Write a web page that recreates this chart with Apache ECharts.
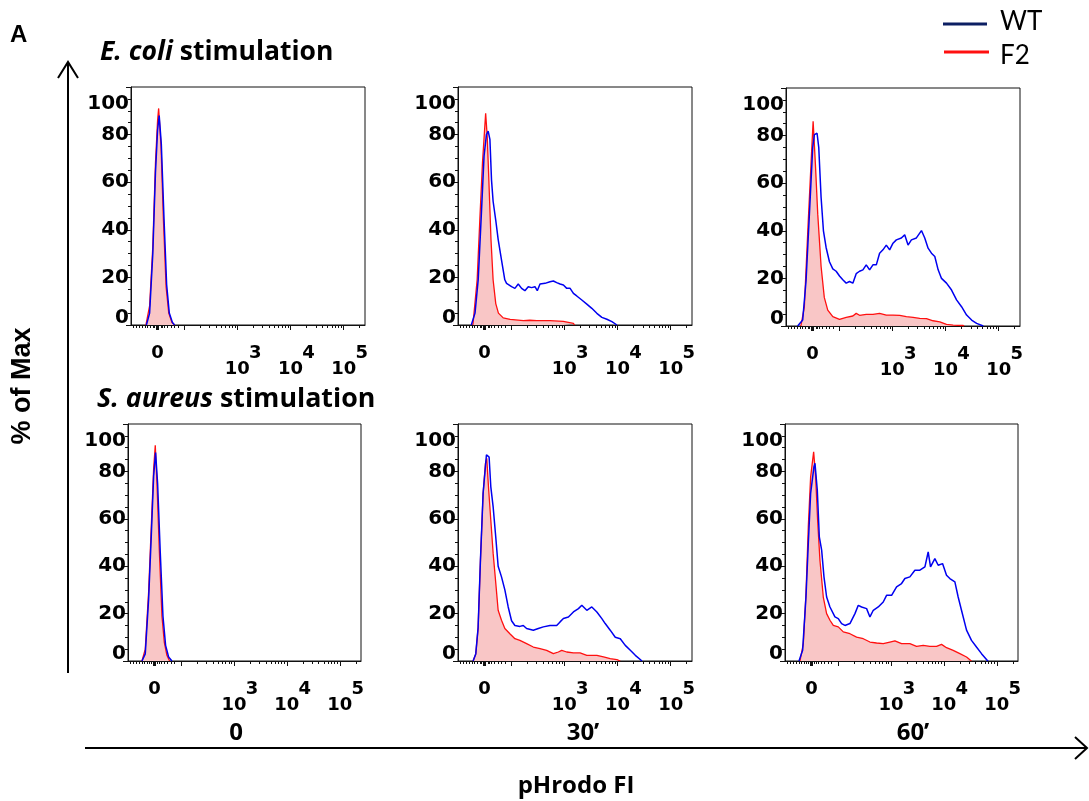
<!DOCTYPE html>
<html>
<head>
<meta charset="utf-8">
<title>pHrodo FI histograms</title>
<script src="https://cdn.jsdelivr.net/npm/echarts@6/dist/echarts.min.js"></script>
<style>
    html, body { margin: 0; padding: 0; background: #fff; }
    #chart { width: 1089px; height: 801px; }
</style>
</head>
<body>
<div id="chart"></div>
<script>
    // x is in display units of the biexponential scale: 0 sits at 1.5, 10^n sits at n
    let xRange = [1.0, 5.4];
    let xLabelTicks = [1.5, 3, 4, 5];
    let xExpTicks = [3, 4, 5];
    let xMajorTicks = [1.48, 1.5, 1.52, 2, 3, 4, 5];
    let xMinorTicks = [1.05, 1.09, 1.16, 1.22, 1.27, 1.31, 1.36, 1.41, 1.44,
        1.56, 1.59, 1.63, 1.69, 1.75, 1.82, 1.88,
        2.301, 2.477, 2.602, 2.699, 2.778, 2.845, 2.903, 2.954,
        3.301, 3.477, 3.602, 3.699, 3.778, 3.845, 3.903, 3.954,
        4.301, 4.477, 4.602, 4.699, 4.778, 4.845, 4.903, 4.954,
        5.301];
    let yTicks = [0, 20, 40, 60, 80, 100];

    // E. coli stimulation
    let ecoli0Wt = [[1.29, 0], [1.35, 5], [1.41, 30], [1.46, 64], [1.50, 82], [1.53, 88], [1.57, 76], [1.62, 45], [1.67, 17], [1.72, 5], [1.78, 1], [1.82, 0]];
    let ecoli0F2 = [[1.28, 0], [1.35, 8], [1.41, 33], [1.46, 68], [1.50, 86], [1.52, 91], [1.565, 75], [1.61, 44], [1.66, 16], [1.71, 5], [1.77, 1], [1.82, 0]];

    let ecoli30Wt = [[1.25, 0], [1.32, 5], [1.38, 19], [1.44, 47], [1.49, 71], [1.535, 80], [1.567, 81.5], [1.60, 78], [1.63, 61], [1.66, 52], [1.71, 44], [1.755, 36],
        [1.82, 27], [1.88, 19], [1.913, 17.5], [2.007, 16.1], [2.07, 15.4], [2.133, 17.2], [2.196, 15.4], [2.258, 14.4], [2.321, 16.1], [2.384, 15.7], [2.447, 16.1],
        [2.491, 14.4], [2.542, 17.2], [2.636, 17.5], [2.73, 18.2], [2.793, 18.5], [2.856, 17.8], [2.919, 17.2], [2.982, 16.8], [3.045, 15.4], [3.108, 15.4], [3.17, 13.3],
        [3.233, 12.2], [3.328, 10.5], [3.422, 8.8], [3.516, 7.0], [3.611, 4.9], [3.705, 3.2], [3.799, 2.4], [3.894, 1.4], [3.988, 0]];
    let ecoli30F2 = [[1.28, 0], [1.36, 19], [1.41, 44], [1.46, 68], [1.52, 89], [1.55, 79], [1.58, 61], [1.62, 36], [1.66, 19], [1.71, 9], [1.76, 5], [1.85, 3],
        [1.98, 2.4], [2.23, 1.8], [2.35, 2], [2.48, 1.8], [2.73, 1.8], [2.98, 1.5], [3.17, 0.7], [3.19, 0]];

    let ecoli60Wt = [[1.219, 0], [1.314, 2.5], [1.377, 19], [1.44, 47], [1.502, 75], [1.534, 80.4], [1.584, 81], [1.616, 75], [1.66, 54], [1.704, 40], [1.754, 33],
        [1.817, 27], [1.88, 24], [1.943, 23], [2.006, 21], [2.068, 19.4], [2.132, 18], [2.194, 18.7], [2.257, 18], [2.32, 22], [2.383, 23], [2.446, 23.6], [2.509, 25.7],
        [2.572, 23.6], [2.635, 25.7], [2.698, 25.7], [2.76, 30.6], [2.823, 32], [2.886, 34], [2.949, 32], [3.012, 34.8], [3.075, 36.2], [3.169, 37], [3.232, 38.3],
        [3.295, 34], [3.358, 36.2], [3.452, 37], [3.547, 40.1], [3.609, 37], [3.672, 32.7], [3.735, 30.6], [3.798, 29.2], [3.861, 23.6], [3.924, 20], [4.018, 18],
        [4.113, 15.1], [4.207, 11], [4.301, 8.1], [4.396, 4.6], [4.49, 2.5], [4.584, 1.1], [4.71, 0]];
    let ecoli60F2 = [[1.28, 0], [1.345, 8], [1.41, 40], [1.47, 68], [1.51, 86], [1.553, 68], [1.597, 47], [1.66, 25], [1.72, 12], [1.785, 6.7], [1.88, 3.9], [2.006, 2.8],
        [2.132, 3.6], [2.257, 4.2], [2.32, 5.3], [2.383, 4.5], [2.509, 4.9], [2.635, 4.9], [2.76, 5.3], [2.886, 4.6], [3.012, 4.6], [3.138, 4.5], [3.263, 3.9],
        [3.389, 3.6], [3.515, 3.2], [3.641, 3.1], [3.766, 2.2], [3.892, 1.7], [4.018, 0.7], [4.144, 0.4], [4.333, 0.2], [4.35, 0]];

    // S. aureus stimulation
    let saureus0Wt = [[1.264, 0], [1.326, 3], [1.389, 26], [1.44, 53], [1.484, 78], [1.521, 88], [1.559, 75], [1.609, 46], [1.66, 19], [1.71, 6.6], [1.767, 1.7], [1.83, 0]];
    let saureus0F2 = [[1.264, 0], [1.326, 5], [1.389, 29], [1.44, 57], [1.484, 81], [1.515, 91], [1.547, 75], [1.591, 47], [1.641, 19], [1.685, 8], [1.735, 2.4], [1.785, 0]];

    let saureus30Wt = [[1.284, 0], [1.334, 3], [1.378, 14], [1.422, 42.5], [1.472, 70.7], [1.535, 87], [1.554, 87.5], [1.585, 86], [1.617, 73.5], [1.661, 65], [1.711, 52],
        [1.755, 40], [1.818, 35.5], [1.881, 30], [1.944, 22.8], [2.007, 17], [2.07, 15], [2.164, 14.6], [2.227, 15], [2.29, 13.7], [2.416, 13], [2.51, 13.7], [2.604, 14.4],
        [2.73, 15], [2.856, 15], [2.919, 16.5], [2.982, 17.9], [3.076, 18.6], [3.17, 20.7], [3.265, 22.1], [3.328, 23.5], [3.422, 21.4], [3.516, 22.8], [3.611, 20.7],
        [3.705, 17.9], [3.768, 15.8], [3.862, 13], [3.957, 10], [4.051, 9.4], [4.145, 6.6], [4.24, 4.5], [4.334, 2.4], [4.46, 0]];
    let saureus30F2 = [[1.284, 0], [1.334, 3], [1.378, 14], [1.422, 42.5], [1.472, 70.7], [1.516, 83.4], [1.541, 85.5], [1.573, 73.5], [1.617, 59.4], [1.661, 45.4],
        [1.711, 32.7], [1.755, 21.4], [1.818, 17.2], [1.881, 13.7], [1.975, 11.5], [2.07, 9.4], [2.164, 8.7], [2.29, 7.3], [2.416, 5.9], [2.542, 5.2], [2.667, 4.5],
        [2.793, 3.1], [2.887, 3.8], [2.95, 4.5], [3.045, 3.8], [3.17, 3.4], [3.296, 3.4], [3.422, 2.4], [3.548, 2.4], [3.611, 2.4], [3.736, 1.7], [3.862, 1], [3.988, 0.6], [4.051, 0]];

    let saureus60Wt = [[1.264, 0], [1.333, 4.5], [1.396, 27], [1.44, 49.6], [1.484, 70.7], [1.547, 82], [1.566, 83.4], [1.61, 72], [1.648, 52.4], [1.692, 46.8],
        [1.736, 35.5], [1.786, 27], [1.849, 22.8], [1.943, 18.6], [2.006, 17.9], [2.069, 15.8], [2.132, 15], [2.226, 15.8], [2.321, 20], [2.384, 23.5], [2.447, 22.8],
        [2.541, 22.1], [2.604, 18.6], [2.667, 21.4], [2.761, 22.8], [2.855, 24.9], [2.918, 27.7], [3.013, 27.7], [3.107, 31.3], [3.201, 32.7], [3.264, 34.8],
        [3.358, 35.5], [3.453, 38.3], [3.547, 38.3], [3.642, 39.7], [3.704, 46], [3.748, 39.7], [3.83, 43.2], [3.893, 40.4], [3.975, 41.1], [4.05, 36.2], [4.113, 34.8],
        [4.208, 33.4], [4.27, 27], [4.333, 21.4], [4.428, 13], [4.522, 8.7], [4.616, 5.9], [4.711, 3.1], [4.805, 0.6], [4.836, 0]];
    let saureus60F2 = [[1.283, 0], [1.346, 7.3], [1.396, 28.5], [1.44, 56.6], [1.484, 77.7], [1.541, 88.3], [1.579, 77.7], [1.616, 59.4], [1.66, 42.5], [1.723, 27],
        [1.786, 20], [1.849, 17.2], [1.912, 15], [2.006, 14.4], [2.101, 12.3], [2.226, 11.5], [2.352, 10.1], [2.478, 9.4], [2.604, 8], [2.73, 7.6], [2.855, 7.3],
        [2.981, 8], [3.075, 8.5], [3.201, 7.3], [3.358, 7.3], [3.484, 6.2], [3.61, 6.6], [3.736, 6.2], [3.862, 6.2], [3.956, 7], [4.05, 5.6], [4.176, 4.5],
        [4.302, 3.1], [4.428, 1.7], [4.503, 0.3], [4.52, 0]];

    let panels = [
        {box: [131, 87, 234, 238], wt: ecoli0Wt, f2: ecoli0F2},
        {box: [458, 87, 234, 238], wt: ecoli30Wt, f2: ecoli30F2},
        {box: [786, 88, 234, 238], wt: ecoli60Wt, f2: ecoli60F2},
        {box: [128, 424, 233, 237], wt: saureus0Wt, f2: saureus0F2},
        {box: [458, 424, 234, 237], wt: saureus30Wt, f2: saureus30F2},
        {box: [785, 424, 233, 237], wt: saureus60Wt, f2: saureus60F2}
    ];

    let WT_COLOR = '#0000f0';
    let F2_COLOR = '#ff1010';
    let numFont = 'DejaVu Sans';
    let textFont = 'Open Sans';

    let grids = [], xAxes = [], yAxes = [], series = [];

    function numStyle(extra) {
        return Object.assign({fontFamily: numFont, fontWeight: 'bold', fontSize: 18, color: '#000'}, extra);
    }

    panels.forEach(function (p, i) {
        grids.push({
            left: p.box[0], top: p.box[1], width: p.box[2], height: p.box[3],
            show: true, borderColor: '#111', borderWidth: 1, outerBoundsMode: 'none'
        });
        // major ticks, "0" and the "10" of each decade
        xAxes.push({
            gridIndex: i, type: 'value', min: xRange[0], max: xRange[1], position: 'bottom',
            axisLine: {show: true, onZero: false, lineStyle: {color: '#111', width: 1}},
            splitLine: {show: false},
            axisTick: {show: true, length: 5, customValues: xMajorTicks, lineStyle: {color: '#111', width: 1}},
            axisLabel: {
                show: true, margin: 19, customValues: xLabelTicks, color: '#000', interval: 0,
                showMinLabel: true, showMaxLabel: true, hideOverlap: false,
                formatter: function (v) {
                    return v < 2 ? '{z|0}' : '{b|10}';
                },
                rich: {
                    z: numStyle({}),
                    b: numStyle({padding: [16, 0, 0, 0]})
                }
            }
        });
        // minor ticks and the exponents
        xAxes.push({
            gridIndex: i, type: 'value', min: xRange[0], max: xRange[1], position: 'bottom',
            axisLine: {show: false}, splitLine: {show: false},
            axisTick: {show: true, length: 3, customValues: xMinorTicks, lineStyle: {color: '#111', width: 1}},
            axisLabel: {
                show: true, margin: 19, customValues: xExpTicks, color: '#000', interval: 0,
                showMinLabel: true, showMaxLabel: true, hideOverlap: false,
                formatter: function (v) {
                    return '{e|' + Math.round(v) + '}';
                },
                rich: {
                    e: numStyle({padding: [0, 0, 0, 36]})
                }
            }
        });
        yAxes.push({
            gridIndex: i, type: 'value', min: yTicks[0], max: yTicks[yTicks.length - 1], interval: 20,
            axisLine: {show: true, lineStyle: {color: '#111', width: 1}},
            splitLine: {show: false},
            axisTick: {show: true, length: 5, lineStyle: {color: '#111'}},
            minorTick: {show: true, splitNumber: 4, length: 3, lineStyle: {color: '#111'}},
            axisLabel: {
                margin: 2, color: '#000', fontFamily: numFont, fontWeight: 'bold', fontSize: 20,
                showMinLabel: true, showMaxLabel: true, interval: 0,
                formatter: function (v) {
                    if (v === 0) return '{lo|0}';
                    if (v === 100) return '{hi|100}';
                    return '{n|' + v + '}';
                },
                rich: {
                    n: numStyle({fontSize: 20}),
                    lo: numStyle({fontSize: 20, padding: [0, 0, 14, 0]}),
                    hi: numStyle({fontSize: 20, padding: [34, 0, 0, 0]})
                }
            }
        });
        series.push({
            name: 'F2', type: 'line', xAxisIndex: 2 * i, yAxisIndex: i, data: p.f2,
            showSymbol: false, smooth: false, z: 2,
            lineStyle: {color: F2_COLOR, width: 1.3},
            itemStyle: {color: F2_COLOR},
            areaStyle: {color: '#f9c6c6', opacity: 1}
        });
        series.push({
            name: 'WT', type: 'line', xAxisIndex: 2 * i, yAxisIndex: i, data: p.wt,
            showSymbol: false, smooth: false, z: 3,
            lineStyle: {color: WT_COLOR, width: 1.5},
            itemStyle: {color: WT_COLOR}
        });
    });

    function txt(text, x, y, family, size, weight, align, extra) {
        return {
            type: 'text', z: 10,
            style: Object.assign({
                text: text, x: x, y: y, fill: '#000',
                fontFamily: family, fontSize: size, fontWeight: weight,
                textAlign: align || 'left', align: align || 'left',
                textVerticalAlign: 'middle', verticalAlign: 'middle'
            }, extra || {})
        };
    }

    function titleRich(size) {
        return {
            i: {fontStyle: 'italic', fontWeight: 'bold', fontSize: size, fontFamily: textFont, fill: '#000'},
            n: {fontWeight: 'bold', fontSize: size, fontFamily: textFont, fill: '#000'}
        };
    }

    let graphics = [
        txt('A', 10, 35, 'Liberation Sans', 24, 'bold'),
        txt('{i|E. coli}{n| stimulation}', 100, 52, textFont, 26, 'bold', 'left', {rich: titleRich(26.5)}),
        txt('{i|S. aureus}{n| stimulation}', 97, 399, textFont, 26, 'bold', 'left', {rich: titleRich(26.8)}),
        {
            type: 'text', z: 10, x: 23, y: 386, rotation: Math.PI / 2,
            style: {text: '% of Max', x: 0, y: 0, fill: '#000',
                fontFamily: 'Liberation Sans', fontSize: 27, fontWeight: 'bold',
                textAlign: 'center', align: 'center', textVerticalAlign: 'middle', verticalAlign: 'middle'}
        },
        txt('0', 236, 733, textFont, 24, 'bold', 'center'),
        txt('30\u2019', 583, 733, textFont, 24, 'bold', 'center'),
        txt('60\u2019', 913, 733, textFont, 24, 'bold', 'center'),
        txt('pHrodo FI', 576, 786, textFont, 24, 'bold', 'center'),
        // y arrow
        {type: 'line', z: 10, shape: {x1: 68, y1: 673, x2: 68, y2: 62}, style: {stroke: '#000', lineWidth: 2}},
        {type: 'polyline', z: 10, shape: {points: [[58, 78], [68, 62], [78, 78]]}, style: {stroke: '#000', lineWidth: 2, fill: null}},
        // x arrow
        {type: 'line', z: 10, shape: {x1: 85, y1: 748, x2: 1087, y2: 748}, style: {stroke: '#000', lineWidth: 2}},
        {type: 'polyline', z: 10, shape: {points: [[1075, 737], [1087, 748], [1075, 759]]}, style: {stroke: '#000', lineWidth: 2, fill: null}},
        // legend
        {type: 'line', z: 10, shape: {x1: 943, y1: 24, x2: 987, y2: 24}, style: {stroke: '#0c1f63', lineWidth: 3}},
        txt('WT', 1000, 22, 'Lato', 26, 'normal'),
        {type: 'line', z: 10, shape: {x1: 944, y1: 52, x2: 989, y2: 52}, style: {stroke: '#ff1010', lineWidth: 3}},
        txt('F2', 1000, 56, 'Lato', 26, 'normal')
    ];

    let chart = echarts.init(document.getElementById('chart'), null, {renderer: 'canvas'});
    chart.setOption({
        animation: false,
        backgroundColor: '#fff',
        grid: grids,
        xAxis: xAxes,
        yAxis: yAxes,
        series: series,
        graphic: {elements: graphics}
    });
</script>
</body>
</html>
